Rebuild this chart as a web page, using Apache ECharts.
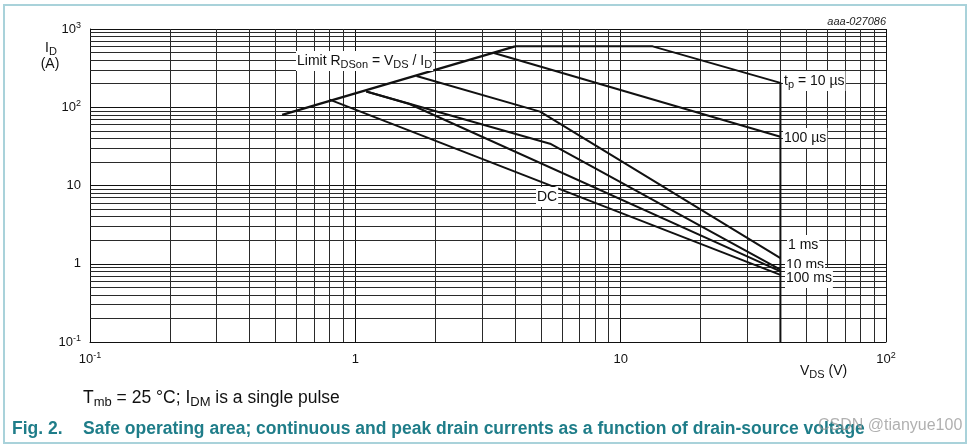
<!DOCTYPE html>
<html>
<head>
<meta charset="utf-8">
<script src="https://cdn.jsdelivr.net/npm/echarts@6/dist/echarts.min.js"></script>
<style>
html,body{margin:0;padding:0;background:#fff;}
#c{width:974px;height:445px;}
</style>
</head>
<body>
<div id="c"></div>
<script>
// ---- data (V_DS in volts, I_D in amperes) ----
const limitV = [0.53, 4.0];
const limitI = [80, 600];
const t10usV = [4.0, 13.2, 40, 40];
const t10usI = [600, 600, 205, 0.1];
const t100usV = [3.33, 40];
const t100usI = [493, 42];
const t1msV = [1.70, 4.97, 40];
const t1msI = [251, 88, 1.18];
const t10msV = [1.10, 5.42, 40];
const t10msI = [159, 34.2, 0.84];
const t100msV = [1.10, 1.6, 40];
const t100msI = [159, 110, 0.80];
const dcV = [0.80, 40];
const dcI = [125, 0.72];

const xDecades = [0.1, 1, 10];
const yDecades = [0.1, 1, 10, 100];
const minorSteps = [2, 3, 4, 5, 6, 7, 8, 9];

const FONT = '"Liberation Sans", Arial, sans-serif';
const zip = (a, b) => a.map((v, i) => [v, b[i]]);

const minorX = [];
xDecades.forEach(d => minorSteps.forEach(k => minorX.push({xAxis: +(d * k).toPrecision(6)})));
const minorY = [];
yDecades.forEach(d => minorSteps.forEach(k => minorY.push({yAxis: +(d * k).toPrecision(6)})));

function powLabel(v) {
  const e = Math.round(Math.log10(v));
  if (e === 0) return '1';
  if (e === 1) return '10';
  return '10{sup|' + (e < 0 ? '-' + (-e) : e) + '}';
}
const axisRich = {
  sup: {fontSize: 9, fontFamily: FONT, color: '#111', verticalAlign: 'top', lineHeight: 9}
};

const chart = echarts.init(document.getElementById('c'), null, {renderer: 'canvas'});

function curve(name, v, i, w) {
  return {
    name: name, type: 'line', data: zip(v, i), symbol: 'none', silent: true,
    lineStyle: {color: '#111', width: w || 2}, z: 5, animation: false
  };
}

const subRich = {
  sub: {fontSize: 11, fontFamily: FONT, fill: '#111', verticalAlign: 'bottom', lineHeight: 11},
};
function label(x, y, text) {
  return {
    type: 'text', x: x, y: y, z: 20, silent: true,
    style: {
      text: text, font: '14px ' + FONT, fill: '#111',
      verticalAlign: 'middle', align: 'left',
      backgroundColor: '#fff', padding: [1, 1, 1, 1],
      lineHeight: 18, rich: subRich
    }
  };
}

chart.setOption({
  animation: false,
  grid: {left: 90, right: 88, top: 29, bottom: 103},
  xAxis: {
    type: 'log', logBase: 10, min: 0.1, max: 100,
    axisLine: {show: true, lineStyle: {color: '#111', width: 1}},
    axisTick: {show: false},
    splitLine: {show: true, lineStyle: {color: '#111', width: 1}},
    axisLabel: {
      formatter: powLabel, rich: axisRich, fontSize: 13, fontFamily: FONT,
      color: '#111', margin: 9, lineHeight: 16
    }
  },
  yAxis: {
    type: 'log', logBase: 10, min: 0.1, max: 1000,
    axisLine: {show: true, lineStyle: {color: '#111', width: 1}},
    axisTick: {show: false},
    splitLine: {show: true, lineStyle: {color: '#111', width: 1}},
    axisLabel: {
      formatter: powLabel, rich: axisRich, fontSize: 13, fontFamily: FONT,
      color: '#111', margin: 9, lineHeight: 16
    }
  },
  series: [
    {
      type: 'line', data: [], silent: true, z: 1,
      markLine: {
        silent: true, symbol: 'none', label: {show: false}, animation: false,
        lineStyle: {type: 'solid', color: '#2a2a2a', width: 1},
        data: minorX.concat(minorY)
      }
    },
    curve('limit', limitV, limitI, 2.5),
    curve('10us', t10usV, t10usI, 2),
    curve('100us', t100usV, t100usI, 2),
    curve('1ms', t1msV, t1msI, 2),
    curve('10ms', t10msV, t10msI, 2),
    curve('100ms', t100msV, t100msI, 2),
    curve('DC', dcV, dcI, 2)
  ],
  graphic: [
    {type: 'rect', z: 0, silent: true, shape: {x: 4, y: 5, width: 962, height: 438},
      style: {fill: 'none', stroke: '#a9d2da', lineWidth: 2}},
    {type: 'text', x: 886, y: 22, silent: true,
      style: {text: 'aaa-027086', font: 'italic 11px ' + FONT, fill: '#222', align: 'right', verticalAlign: 'middle'}},
    {type: 'text', x: 51, y: 48, silent: true,
      style: {text: 'I{sub|D}', font: '14px ' + FONT, fill: '#111', align: 'center', verticalAlign: 'middle', lineHeight: 18, rich: subRich}},
    {type: 'text', x: 50, y: 64, silent: true,
      style: {text: '(A)', font: '14px ' + FONT, fill: '#111', align: 'center', verticalAlign: 'middle'}},
    {type: 'text', x: 800, y: 371, silent: true,
      style: {text: 'V{sub|DS} (V)', font: '14px ' + FONT, fill: '#111', align: 'left', verticalAlign: 'middle', lineHeight: 18, rich: subRich}},
    {type: 'text', x: 83, y: 398, silent: true,
      style: {text: 'T{s|mb} = 25 °C; I{s|DM} is a single pulse', font: '17.5px ' + FONT, fill: '#111', align: 'left', verticalAlign: 'middle', lineHeight: 22,
        rich: {s: {fontSize: 13, fontFamily: FONT, fill: '#111', verticalAlign: 'bottom', lineHeight: 13}}}},
    {type: 'text', x: 12, y: 429, silent: true,
      style: {text: 'Fig. 2.', font: 'bold 17.5px ' + FONT, fill: '#1f7d89', align: 'left', verticalAlign: 'middle'}},
    {type: 'text', x: 83, y: 429, silent: true,
      style: {text: 'Safe operating area; continuous and peak drain currents as a function of drain-source voltage', font: 'bold 17.5px ' + FONT, fill: '#1f7d89', align: 'left', verticalAlign: 'middle'}},
    {type: 'text', x: 818, y: 426, silent: true, z: 30,
      style: {text: 'CSDN @tianyue100', font: '16px ' + FONT, fill: 'rgba(150,150,150,0.75)', align: 'left', verticalAlign: 'middle'}},
    label(296, 61, 'Limit R{sub|DSon} = V{sub|DS} / I{sub|D}'),
    label(783, 81, 't{sub|p} = 10 µs'),
    label(783, 138, '100 µs'),
    label(536, 197, 'DC'),
    label(787, 245, '1 ms'),
    label(785, 265, '10 ms'),
    label(785, 278, '100 ms')
  ]
});
</script>
</body>
</html>
